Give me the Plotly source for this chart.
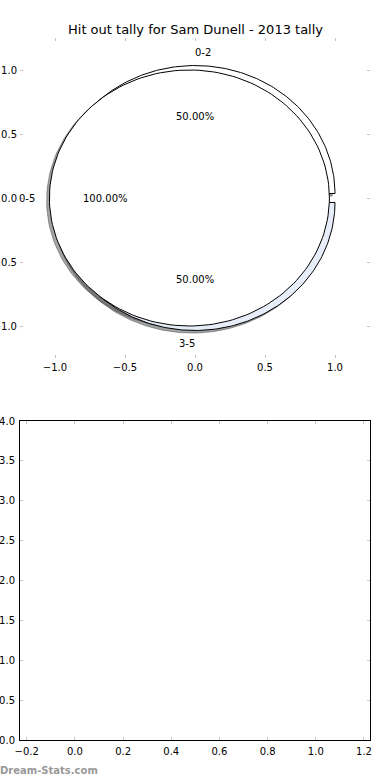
import numpy as np
import plotly.graph_objects as go

# ---- data ----
chart_title = "Hit out tally for Sam Dunell - 2013 tally"
outer_labels = ["0-2", "3-5"]
outer_counts = [1, 1]
inner_labels = ["0-5"]
inner_counts = [2]
top_ticks = [-1.0, -0.5, 0.0, 0.5, 1.0]
bottom_xticks = [-0.2, 0.0, 0.2, 0.4, 0.6, 0.8, 1.0, 1.2]
bottom_yticks = [0.0, 0.5, 1.0, 1.5, 2.0, 2.5, 3.0, 3.5, 4.0]
watermark = "Dream-Stats.com"

# ---- styles ----
outer_colors = ["#ffffff", "#e8edfa"]
inner_colors = ["#ffffff"]
outer_explode = 0.035
inner_explode = 0.04
RADIUS = 1.0
LABEL_DIST = 1.1
PCT_DIST = 0.6
SHADOW_OFF = (-0.02, -0.02)
FONT = "DejaVu Sans"
TICK_GREY = "#c4c4c4"
W, H = 390, 780


def pie_geometry(counts, explode):
    counts = np.asarray(counts, dtype=float)
    fr = counts / counts.sum()
    out = []
    t1 = 0.0
    for f in fr:
        t2 = t1 + f
        thetam = 2 * np.pi * 0.5 * (t1 + t2)
        cx = explode * np.cos(thetam)
        cy = explode * np.sin(thetam)
        ang = np.linspace(2 * np.pi * t1, 2 * np.pi * t2, 181)
        ax = cx + RADIUS * np.cos(ang)
        ay = cy + RADIUS * np.sin(ang)
        if abs(f - 1.0) < 1e-9:
            px, py = ax, ay
        else:
            px = np.concatenate([[cx], ax, [cx]])
            py = np.concatenate([[cy], ay, [cy]])
        xt = cx + LABEL_DIST * RADIUS * np.cos(thetam)
        yt = cy + LABEL_DIST * RADIUS * np.sin(thetam)
        xp = cx + PCT_DIST * RADIUS * np.cos(thetam)
        yp = cy + PCT_DIST * RADIUS * np.sin(thetam)
        out.append(dict(px=px, py=py, xt=xt, yt=yt, xp=xp, yp=yp, pct=100 * f))
        t1 = t2
    return out


outer = pie_geometry(outer_counts, outer_explode)
inner = pie_geometry(inner_counts, inner_explode)

fig = go.Figure()

# shadows first (drawn beneath all wedges)
for geo, col in list(zip(outer, outer_colors)) + list(zip(inner, inner_colors)):
    r, g, b = [int(col[i:i + 2], 16) for i in (1, 3, 5)]
    sc = "rgba(%d,%d,%d,0.5)" % (0.3 * r, 0.3 * g, 0.3 * b)
    fig.add_trace(go.Scatter(
        x=geo["px"] + SHADOW_OFF[0], y=geo["py"] + SHADOW_OFF[1],
        mode="lines", fill="toself", fillcolor=sc,
        line=dict(color=sc, width=1), hoverinfo="skip", xaxis="x", yaxis="y"))

for geo, col in list(zip(outer, outer_colors)) + list(zip(inner, inner_colors)):
    fig.add_trace(go.Scatter(
        x=geo["px"], y=geo["py"], mode="lines", fill="toself", fillcolor=col,
        line=dict(color="black", width=1), hoverinfo="skip", xaxis="x", yaxis="y"))

# empty bottom axes (needs a trace so the subplot is drawn)
fig.add_trace(go.Scatter(x=[None], y=[None], mode="markers", hoverinfo="skip",
                         xaxis="x2", yaxis="y2"))

annotations = []
for geo, lab in list(zip(outer, outer_labels)) + list(zip(inner, inner_labels)):
    annotations.append(dict(
        x=geo["xt"], y=geo["yt"], xref="x", yref="y", text=lab, showarrow=False,
        xanchor="left" if geo["xt"] > 0 else "right", yanchor="middle",
        borderpad=0, borderwidth=0,
        font=dict(family=FONT, size=10, color="black")))
    annotations.append(dict(
        x=geo["xp"], y=geo["yp"], xref="x", yref="y", text="%.2f%%" % geo["pct"],
        showarrow=False, xanchor="center", yanchor="middle",
        borderpad=0, borderwidth=0,
        font=dict(family=FONT, size=10, color="black")))

annotations.append(dict(
    x=0.5, y=(H - 30) / H, xref="paper", yref="paper", text=chart_title,
    showarrow=False, xanchor="center", yanchor="middle",
    font=dict(family=FONT, size=13, color="black")))
annotations.append(dict(
    x=0.0, y=(H - 770) / H, xref="paper", yref="paper", text=watermark,
    showarrow=False, xanchor="left", yanchor="middle", borderpad=0, borderwidth=0,
    font=dict(family=FONT, size=10, color="#999999", weight="bold")))

xdom = [20 / W, 370 / W]
tick_common = dict(ticks="inside", ticklen=3, tickwidth=1, tickcolor=TICK_GREY,
                   showgrid=False, zeroline=False, tickformat=".1f",
                   tickfont=dict(family=FONT, size=10, color="black"),
                   automargin=False)

fig.update_layout(
    width=W, height=H, margin=dict(l=0, r=0, t=0, b=0),
    paper_bgcolor="white", plot_bgcolor="white", showlegend=False,
    annotations=annotations,
    xaxis=dict(domain=xdom, range=[-1.25, 1.25], anchor="y", tickvals=top_ticks,
               showline=False, mirror="ticks", ticklabelstandoff=2, **tick_common),
    yaxis=dict(domain=[(H - 358) / H, (H - 38) / H], range=[-1.25, 1.25], anchor="x",
               tickvals=top_ticks, showline=False, mirror="ticks", ticklabelstandoff=2,
               **tick_common),
    xaxis2=dict(domain=xdom, range=[-0.228, 1.225], anchor="y2", tickvals=bottom_xticks,
                showline=True, linecolor="black", linewidth=1, mirror="ticks",
                ticklabelstandoff=2, **tick_common),
    yaxis2=dict(domain=[(H - 740) / H, (H - 421) / H], range=[0, 4], anchor="x2",
                tickvals=bottom_yticks, showline=True, linecolor="black", linewidth=1,
                mirror="ticks", ticklabelstandoff=2, **tick_common),
)

fig.write_html("out.html")
